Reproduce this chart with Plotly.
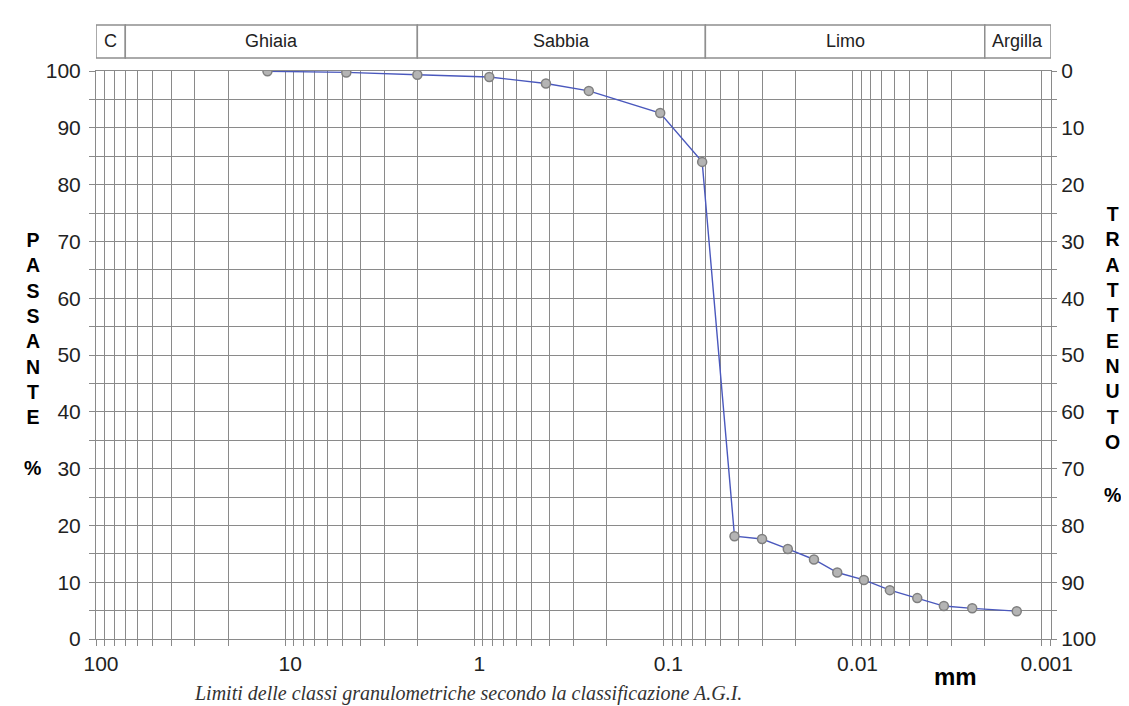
import numpy as np
import plotly.graph_objects as go

# ---- data ----
diam_mm = [12.4, 4.75, 2.0, 0.833, 0.418, 0.248, 0.104, 0.0624, 0.0421, 0.0301,
           0.0220, 0.0160, 0.01205, 0.00871, 0.00635, 0.00455, 0.00329, 0.00233, 0.001355]
passante = [99.95, 99.75, 99.35, 98.95, 97.8, 96.5, 92.6, 84.0, 18.1, 17.6,
            15.85, 14.0, 11.7, 10.4, 8.6, 7.2, 5.8, 5.4, 4.9]

x_tickvals = [100, 10, 1, 0.1, 0.01, 0.001]
x_ticktext = ["100", "10", "1", "0.1", "0.01", "0.001"]
y_tickvals = list(range(0, 101, 10))

class_names = ["C", "Ghiaia", "Sabbia", "Limo", "Argilla"]
class_limits = [100, 70, 2, 0.06, 0.002, 0.000893]  # mm, left to right

title_left = "PASSANTE"
title_right = "TRATTENUTO"
footer = "Limiti delle classi granulometriche secondo la classificazione A.G.I."

GRID = "#8a8a8a"
TXT = "#222222"
SANS = "Liberation Sans, Arial"

fig = go.Figure()
fig.add_trace(go.Scatter(
    x=diam_mm, y=passante, mode="lines+markers",
    line=dict(color="#4a58bd", width=1.4),
    marker=dict(size=9, color="#b4b4b4", line=dict(color="#7f7f7f", width=1.5)),
    showlegend=False, hoverinfo="skip"))
# invisible trace for the right axis
fig.add_trace(go.Scatter(x=[diam_mm[0]], y=[100 - passante[0]], yaxis="y2",
                         mode="markers", marker=dict(opacity=0), showlegend=False,
                         hoverinfo="skip"))

lo = np.log10(class_limits[0])
hi = np.log10(class_limits[-1])

# class band
band_y0, band_y1 = 1.0229, 1.081
for i, name in enumerate(class_names):
    a, b = class_limits[i], class_limits[i + 1]
    fig.add_shape(type="rect", xref="x", yref="paper", x0=a, x1=b, y0=band_y0, y1=band_y1,
                  line=dict(color="#8f8f8f", width=1.5), fillcolor="white", layer="above")
    fig.add_annotation(xref="x", yref="paper", x=(np.log10(a) + np.log10(b)) / 2,
                       y=(band_y0 + band_y1) / 2, text=name, showarrow=False,
                       xanchor="center", yanchor="middle",
                       font=dict(family=SANS, size=18, color=TXT))

# outer frame
fig.add_shape(type="rect", xref="paper", yref="paper", x0=-0.0932, x1=1.2, y0=-0.2, y1=1.1127,
              line=dict(color="#6f6f6f", width=1.2))


def note(x, y, text, size, family=SANS, weight="normal", style="normal", color="black"):
    fig.add_annotation(xref="paper", yref="paper", x=x, y=y, text=text, showarrow=False,
                       xanchor="center", yanchor="middle", align="center",
                       font=dict(family=family, size=size, color=color, weight=weight,
                                 style=style))


# vertical axis titles
note(-0.066, 0.5458, "<br>".join(title_left), 19.5, weight="bold")
note(-0.066, 0.301, "%", 19.5, weight="bold")
note(1.0639, 0.5475, "<br>".join(title_right), 19.5, weight="bold")
note(1.0639, 0.2535, "%", 19.5, weight="bold")
note(0.8995, -0.0669, "mm", 24, weight="bold")
note(0.3895, -0.0968, footer, 20, family="Liberation Serif, Times New Roman",
     style="italic", color="#333333")

fig.update_layout(
    width=1121, height=698, autosize=False,
    margin=dict(l=88, r=78, t=63, b=67),
    plot_bgcolor="white", paper_bgcolor="white",
    font=dict(family=SANS, size=21, color=TXT),
    xaxis=dict(type="log", range=[lo, hi], tickvals=x_tickvals, ticktext=x_ticktext,
               ticks="outside", ticklen=6, tickcolor=GRID, showgrid=True, gridcolor=GRID,
               gridwidth=1, showline=True, linecolor=GRID, mirror=True, zeroline=False,
               ticklabelshift=-5,
               minor=dict(dtick="D1", showgrid=True, gridcolor=GRID, gridwidth=1,
                          ticks="outside", ticklen=6, tickcolor=GRID)),
    yaxis=dict(range=[0, 100], tickvals=y_tickvals, ticks="outside", ticklen=6, tickcolor=GRID,
               showgrid=True, gridcolor=GRID, showline=True, linecolor=GRID, mirror=True,
               zeroline=False, ticklabelstandoff=4,
               minor=dict(dtick=5, showgrid=True, gridcolor=GRID, ticks="outside",
                          ticklen=6, tickcolor=GRID)),
    yaxis2=dict(overlaying="y", side="right", range=[100, 0], tickvals=y_tickvals,
                ticks="outside", ticklen=5, tickcolor=GRID, showgrid=False, zeroline=False,
                minor=dict(dtick=5, ticks="outside", ticklen=5, tickcolor=GRID)),
)

fig.write_html("out.html")
